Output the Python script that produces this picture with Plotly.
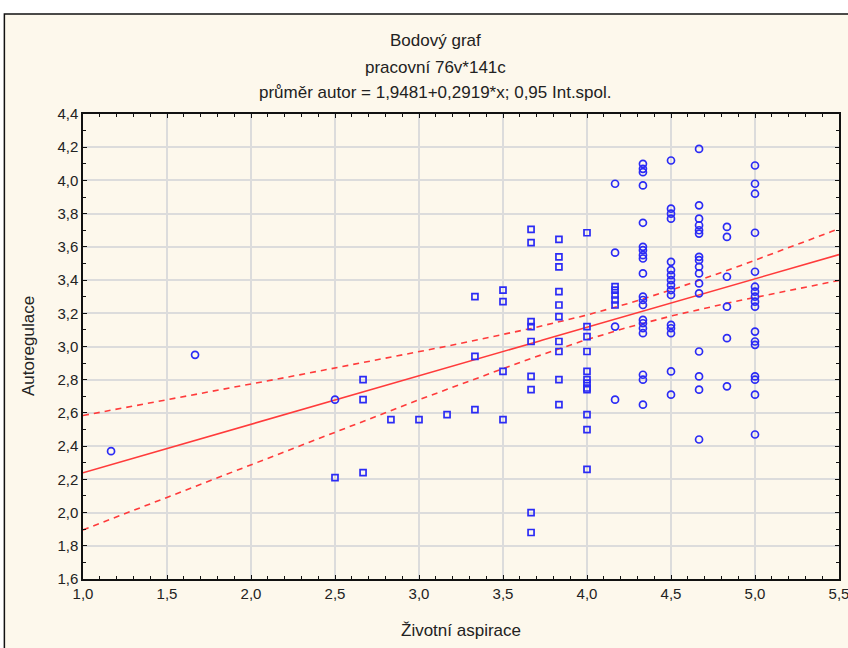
import numpy as np
import plotly.graph_objects as go

# ---- data ----
circ_x = [1.167, 1.667, 2.5,
          4.167, 4.167, 4.167, 4.167,
          4.333, 4.333, 4.333, 4.333, 4.333, 4.333, 4.333, 4.333, 4.333, 4.333,
          4.333, 4.333, 4.333, 4.333, 4.333, 4.333, 4.333, 4.333, 4.333, 4.333,
          4.5, 4.5, 4.5, 4.5, 4.5, 4.5, 4.5, 4.5, 4.5, 4.5, 4.5, 4.5, 4.5, 4.5, 4.5, 4.5,
          4.667, 4.667, 4.667, 4.667, 4.667, 4.667, 4.667, 4.667, 4.667, 4.667, 4.667,
          4.667, 4.667, 4.667, 4.667, 4.667,
          4.833, 4.833, 4.833, 4.833, 4.833, 4.833,
          5.0, 5.0, 5.0, 5.0, 5.0, 5.0, 5.0, 5.0, 5.0, 5.0, 5.0, 5.0, 5.0, 5.0, 5.0, 5.0, 5.0]
circ_y = [2.37, 2.95, 2.68,
          3.98, 3.565, 3.12, 2.68,
          4.10, 4.07, 4.05, 3.97, 3.745, 3.60, 3.58, 3.55, 3.53, 3.44,
          3.30, 3.28, 3.25, 3.16, 3.14, 3.11, 3.08, 2.83, 2.80, 2.65,
          4.12, 3.83, 3.80, 3.77, 3.51, 3.46, 3.43, 3.40, 3.37, 3.34, 3.31, 3.13, 3.11, 3.08, 2.85, 2.71,
          4.19, 3.85, 3.77, 3.73, 3.70, 3.68, 3.54, 3.52, 3.48, 3.44, 3.38,
          3.32, 2.97, 2.82, 2.74, 2.44,
          3.72, 3.66, 3.42, 3.24, 3.05, 2.76,
          4.09, 3.98, 3.92, 3.685, 3.45, 3.36, 3.33, 3.30, 3.27, 3.24, 3.09, 3.03, 3.01, 2.82, 2.80, 2.71, 2.47]

sq_x = [2.5, 2.667, 2.667, 2.667, 2.833, 3.0, 3.167,
        3.333, 3.333, 3.333,
        3.5, 3.5, 3.5, 3.5,
        3.667, 3.667, 3.667, 3.667, 3.667, 3.667, 3.667, 3.667, 3.667,
        3.833, 3.833, 3.833, 3.833, 3.833, 3.833, 3.833, 3.833, 3.833, 3.833,
        4.0, 4.0, 4.0, 4.0, 4.0, 4.0, 4.0, 4.0, 4.0, 4.0, 4.0, 4.0,
        4.167, 4.167, 4.167, 4.167, 4.167]
sq_y = [2.21, 2.80, 2.68, 2.24, 2.56, 2.56, 2.59,
        3.30, 2.94, 2.62,
        3.34, 3.27, 2.85, 2.56,
        3.705, 3.625, 3.15, 3.12, 3.03, 2.82, 2.74, 2.00, 1.88,
        3.645, 3.54, 3.48, 3.33, 3.25, 3.18, 3.03, 2.97, 2.80, 2.65,
        3.685, 3.12, 3.06, 2.97, 2.85, 2.80, 2.78, 2.75, 2.74, 2.59, 2.50, 2.26,
        3.36, 3.34, 3.31, 3.28, 3.25]

intercept = 1.9481
slope = 0.2919

x_ticks = [1.0, 1.5, 2.0, 2.5, 3.0, 3.5, 4.0, 4.5, 5.0, 5.5]
x_labels = ["1,0", "1,5", "2,0", "2,5", "3,0", "3,5", "4,0", "4,5", "5,0", "5,5"]
y_ticks = [1.6, 1.8, 2.0, 2.2, 2.4, 2.6, 2.8, 3.0, 3.2, 3.4, 3.6, 3.8, 4.0, 4.2, 4.4]
y_labels = ["1,6", "1,8", "2,0", "2,2", "2,4", "2,6", "2,8", "3,0", "3,2", "3,4",
            "3,6", "3,8", "4,0", "4,2", "4,4"]

# ---- regression line and 0.95 confidence band ----
all_x = np.array(circ_x + sq_x)
all_y = np.array(circ_y + sq_y)
n = 141
resid = all_y - (intercept + slope * all_x)
s = np.sqrt(np.sum(resid ** 2) / (len(all_x) - 2))
xbar = all_x.mean()
sxx = np.sum((all_x - xbar) ** 2) * n / len(all_x)
t = 1.977
xl = np.linspace(1.0, 5.5, 200)
yl = intercept + slope * xl
hw = t * s * np.sqrt(1 / n + (xl - xbar) ** 2 / sxx)

BLUE = "#2B2BF5"
RED = "#FF3B3B"

fig = go.Figure()
fig.add_trace(go.Scatter(x=xl, y=yl, mode="lines", line=dict(color=RED, width=1.6),
                         hoverinfo="skip", showlegend=False))
fig.add_trace(go.Scatter(x=xl, y=yl + hw, mode="lines",
                         line=dict(color=RED, width=1.6, dash="6px,5px"),
                         hoverinfo="skip", showlegend=False))
fig.add_trace(go.Scatter(x=xl, y=yl - hw, mode="lines",
                         line=dict(color=RED, width=1.6, dash="6px,5px"),
                         hoverinfo="skip", showlegend=False))
fig.add_trace(go.Scatter(x=sq_x, y=sq_y, mode="markers",
                         marker=dict(symbol="square-open", size=6, color=BLUE,
                                     line=dict(width=1.7, color=BLUE)),
                         showlegend=False))
fig.add_trace(go.Scatter(x=circ_x, y=circ_y, mode="markers",
                         marker=dict(symbol="circle-open", size=7, color=BLUE,
                                     line=dict(width=1.7, color=BLUE)),
                         showlegend=False))

FONT = "Liberation Sans, Arial, sans-serif"
axis_common = dict(
    showgrid=True, gridcolor="#DCDCDC", gridwidth=1.5, automargin=False,
    zeroline=False, showline=True, linecolor="#111111", linewidth=1.5, mirror="ticks",
    ticks="inside", ticklen=4, tickcolor="#111111", tickwidth=1,
    ticklabeloverflow="allow",
    tickfont=dict(family=FONT, size=15, color="#222222"),
)
fig.update_xaxes(range=[1.0, 5.5], tickvals=x_ticks, ticktext=x_labels,
                 minor=dict(dtick=0.1, tick0=1.0, ticks="inside", ticklen=3,
                            tickcolor="#111111", showgrid=False),
                 **axis_common)
fig.update_yaxes(range=[1.6, 4.4], tickvals=y_ticks, ticktext=y_labels,
                 minor=dict(dtick=0.1, tick0=1.6, ticks="inside", ticklen=3,
                            tickcolor="#111111", showgrid=False),
                 **axis_common)

shapes = [dict(type="rect", xref="paper", yref="paper", x0=-0.104, x1=1.036,
               y0=-0.2, y1=1.215, fillcolor="#FDF8EC",
               line=dict(color="#111111", width=1.5), layer="below")]

ann = []
titles = [("Bodový graf", 1.159), ("pracovní 76v*141c", 1.101),
          ("průměr autor = 1,9481+0,2919*x; 0,95 Int.spol.", 1.046)]
for txt, yy in titles:
    ann.append(dict(text=txt, xref="paper", yref="paper", x=0.466, y=yy,
                    showarrow=False, xanchor="center", yanchor="middle",
                    font=dict(family=FONT, size=17, color="#222222")))
ann.append(dict(text="Životní aspirace", xref="paper", yref="paper", x=0.5, y=-0.11,
                showarrow=False, xanchor="center", yanchor="middle",
                font=dict(family=FONT, size=17, color="#222222")))
ann.append(dict(text="Autoregulace", xref="paper", yref="paper", x=-0.072, y=0.5,
                showarrow=False, xanchor="center", yanchor="middle", textangle=-90,
                font=dict(family=FONT, size=17, color="#222222")))

fig.update_layout(
    width=848, height=648,
    margin=dict(l=83, r=9, t=114, b=69, autoexpand=False),
    paper_bgcolor="white", plot_bgcolor="white",
    shapes=shapes, annotations=ann, showlegend=False,
)

fig.write_html("out.html")
